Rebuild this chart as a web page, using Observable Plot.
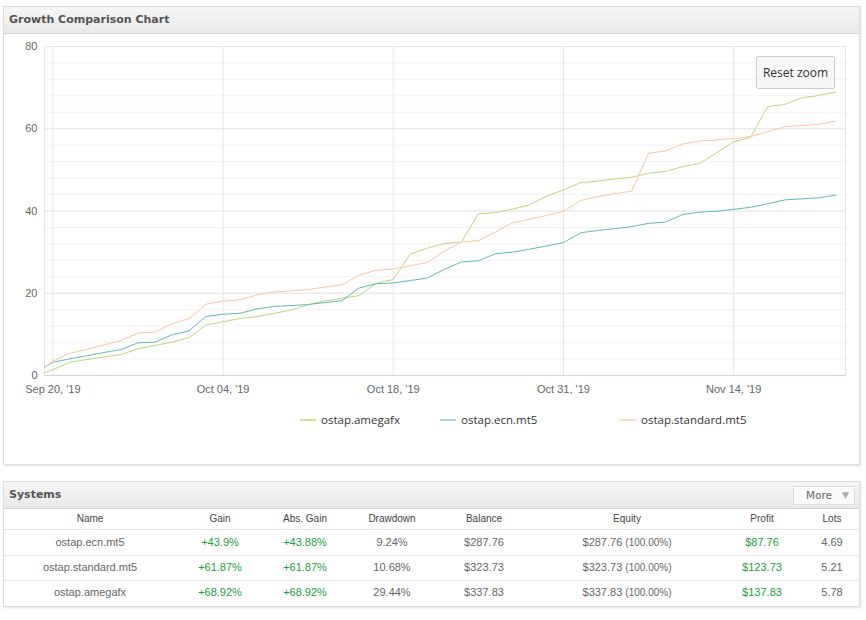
<!DOCTYPE html>
<html>
<head>
<meta charset="utf-8">
<script src="https://cdn.jsdelivr.net/npm/d3@7"></script>
<script src="https://cdn.jsdelivr.net/npm/@observablehq/plot@0.6"></script>
<style>
  html, body { margin: 0; padding: 0; background: #fff; }
  #page { position: relative; width: 866px; height: 620px; overflow: hidden; font-family: "Liberation Sans", Arial, sans-serif; }
  .panel { position: absolute; left: 3px; width: 855px; border: 1px solid #dcdcdc; background: #fff; box-shadow: 1px 1px 2px rgba(0,0,0,0.12); }
  .panel-head { height: 26px; line-height: 26px; padding-left: 5px; background: linear-gradient(#f6f6f6, #e9e9e9); border-bottom: 1px solid #d4d4d4; font-family: "DejaVu Sans", Verdana, sans-serif; font-weight: bold; font-size: 11px; color: #555; }
  #chart { position: absolute; left: 0; top: 34px; }
  #reset { position: absolute; left: 756px; top: 56px; width: 77px; height: 31px; border: 1px solid #cccccc; border-radius: 2px; background: #f7f7f7; font-family: "Open Sans", sans-serif; font-size: 12px; color: #333; line-height: 31px; text-align: center; }
  .leg { position: absolute; top: 412px; font-family: "Open Sans", sans-serif; font-size: 11.5px; color: #333; white-space: nowrap; }
  .leg i { display: inline-block; width: 16px; height: 2px; vertical-align: middle; margin-right: 5px; position: relative; top: -1px; }
  .cell { position: absolute; width: 200px; text-align: center; white-space: nowrap; font-family: "Liberation Sans", Arial, sans-serif; }
  .hdr { font-size: 10px; color: #444; }
  .val { font-size: 11px; color: #666; }
  .up { color: #1aa03c; }
  .small { font-size: 10px; }
  .rowline { position: absolute; left: 4px; width: 855px; height: 1px; background: #e6e6e6; }
  #more { position: absolute; left: 793px; top: 486px; width: 60px; height: 17px; border: 1px solid #dddddd; background: #fafafa; font-family: "DejaVu Sans", Verdana, sans-serif; font-size: 10.5px; color: #666; line-height: 17px; }
</style>
</head>
<body>
<div id="page">
  <div class="panel" style="top:6px;height:457px;"><div class="panel-head">Growth Comparison Chart</div></div>
  <div class="panel" style="top:481px;height:124px;"><div class="panel-head">Systems</div></div>
  <div id="chart"></div>
  <div id="reset">Reset zoom</div>
  <div id="legend"></div>
  <div id="more"><span style="position:absolute;left:12px;">More</span><span style="position:absolute;left:48px;color:#aaa;font-size:9px;">▼</span></div>
  <div id="table"></div>
</div>
<script>
// Trading sessions on an ordinal axis: one slot per session, opening point half a slot early
const steps = [-0.5, ...d3.range(0, 47)];
const tickSteps = [0, 10, 20, 30, 40];
const tickLabels = ["Sep 20, '19", "Oct 04, '19", "Oct 18, '19", "Oct 31, '19", "Nov 14, '19"];

const seriesNames = ["ostap.amegafx", "ostap.ecn.mt5", "ostap.standard.mt5"];
const seriesColors = ["#bcd67c", "#62bab3", "#fdc4a2"];
const legendColors = ["#cfe39a", "#a3dbd5", "#fdd9c4"];

// Cumulative growth, %
const amegafx = [0.65, 1.4, 3.2, 3.9, 4.5, 5.1, 6.5, 7.3, 8.1, 9.2, 12.3, 13.05, 13.9, 14.3, 15.1, 15.9,
  17.25, 18.15, 18.8, 19.4, 22.45, 23.35, 29.5, 30.95, 32.1, 32.4, 39.3, 39.6, 40.45, 41.5, 43.6, 45.15,
  46.9, 47.25, 47.8, 48.2, 49.2, 49.6, 50.8, 51.55, 54.15, 56.8, 57.95, 65.4, 65.9, 67.5, 68.1, 68.92];
const ecn = [2.0, 3.2, 4.05, 4.8, 5.6, 6.3, 7.95, 8.1, 9.9, 10.85, 14.35, 14.9, 15.15, 16.2, 16.8, 17.0,
  17.25, 17.75, 18.2, 21.3, 22.3, 22.5, 23.1, 23.7, 25.8, 27.6, 27.9, 29.6, 30.0, 30.7, 31.5, 32.3,
  34.7, 35.25, 35.7, 36.2, 37.0, 37.3, 39.15, 39.7, 39.95, 40.4, 40.9, 41.75, 42.7, 42.95, 43.2, 43.9];
const standard = [1.86, 3.5, 5.4, 6.4, 7.45, 8.5, 10.3, 10.55, 12.6, 13.8, 17.35, 18.1, 18.4, 19.6, 20.3, 20.6,
  20.9, 21.5, 22.05, 24.4, 25.6, 25.9, 26.7, 27.5, 30.2, 32.5, 32.8, 34.9, 37.1, 38.0, 38.9, 39.9,
  42.55, 43.5, 44.2, 44.8, 54.05, 54.6, 56.3, 57.0, 57.3, 57.6, 58.1, 59.3, 60.5, 60.8, 61.1, 61.87];

const yMajor = [0, 20, 40, 60, 80];
const yMinor = d3.range(0, 81, 4);

// Systems table
const columns = ["Name", "Gain", "Abs. Gain", "Drawdown", "Balance", "Equity", "Profit", "Lots"];
const sysNames = ["ostap.ecn.mt5", "ostap.standard.mt5", "ostap.amegafx"];
const sysGain = ["+43.9%", "+61.87%", "+68.92%"];
const sysAbsGain = ["+43.88%", "+61.87%", "+68.92%"];
const sysDrawdown = ["9.24%", "10.68%", "29.44%"];
const sysBalance = ["$287.76", "$323.73", "$337.83"];
const sysEquity = ["$287.76", "$323.73", "$337.83"];
const sysEquityPct = ["(100.00%)", "(100.00%)", "(100.00%)"];
const sysProfit = ["$87.76", "$123.73", "$137.83"];
const sysLots = ["4.69", "5.21", "5.78"];

const rows = [];
[amegafx, ecn, standard].forEach((vals, s) => {
  vals.forEach((v, i) => rows.push({series: seriesNames[s], step: steps[i], value: v}));
});

const chart = Plot.plot({
  width: 866,
  height: 370,
  marginLeft: 44,
  marginRight: 21,
  marginTop: 12,
  marginBottom: 29,
  style: {fontFamily: "'Liberation Sans', Arial, sans-serif", fontSize: "11px", color: "#666", background: "transparent"},
  x: {type: "linear", domain: [-0.49, 46.57]},
  y: {domain: [0, 80]},
  color: {domain: seriesNames, range: seriesColors},
  marks: [
    Plot.ruleY(yMinor, {stroke: "#f3f3f3"}),
    Plot.ruleY(yMajor, {stroke: "#e6e6e6"}),
    Plot.ruleX(tickSteps, {stroke: "#e6e6e6"}),
    Plot.frame({stroke: "#e6e6e6"}),
    Plot.ruleY([0], {stroke: "#ccd6eb"}),
    Plot.line(rows, {x: "step", y: "value", z: "series", stroke: "series", strokeWidth: 1}),
    Plot.axisX({ticks: tickSteps, tickFormat: d => tickLabels[tickSteps.indexOf(d)], tickSize: 0, tickPadding: 10, label: null, fill: "#666"}),
    Plot.axisY({ticks: yMajor, tickSize: 0, tickPadding: 7, label: null, fill: "#666"})
  ]
});
document.getElementById("chart").appendChild(chart);

// Legend
const legendX = [300, 440, 620];
const legend = document.getElementById("legend");
seriesNames.forEach((name, i) => {
  const el = document.createElement("div");
  el.className = "leg";
  el.style.left = legendX[i] + "px";
  el.innerHTML = `<i style="background:${legendColors[i]}"></i>${name}`;
  legend.appendChild(el);
});

// Table
const colCenters = [90, 220, 305, 392, 484, 627, 762, 832];
const headerTop = 513, rowTops = [536, 561, 586];
const table = document.getElementById("table");
function cell(text, col, top, cls) {
  const el = document.createElement("div");
  el.className = "cell " + cls;
  el.style.left = (colCenters[col] - 100) + "px";
  el.style.top = top + "px";
  el.innerHTML = text;
  table.appendChild(el);
}
columns.forEach((c, j) => cell(c, j, headerTop, "hdr"));
[529, 555, 580].forEach(y => {
  const l = document.createElement("div");
  l.className = "rowline";
  l.style.top = y + "px";
  table.appendChild(l);
});
sysNames.forEach((n, r) => {
  const t = rowTops[r];
  cell(n, 0, t, "val");
  cell(sysGain[r], 1, t, "val up");
  cell(sysAbsGain[r], 2, t, "val up");
  cell(sysDrawdown[r], 3, t, "val");
  cell(sysBalance[r], 4, t, "val");
  cell(`${sysEquity[r]} <span class="small">${sysEquityPct[r]}</span>`, 5, t, "val");
  cell(sysProfit[r], 6, t, "val up");
  cell(sysLots[r], 7, t, "val");
});
</script>
</body>
</html>
